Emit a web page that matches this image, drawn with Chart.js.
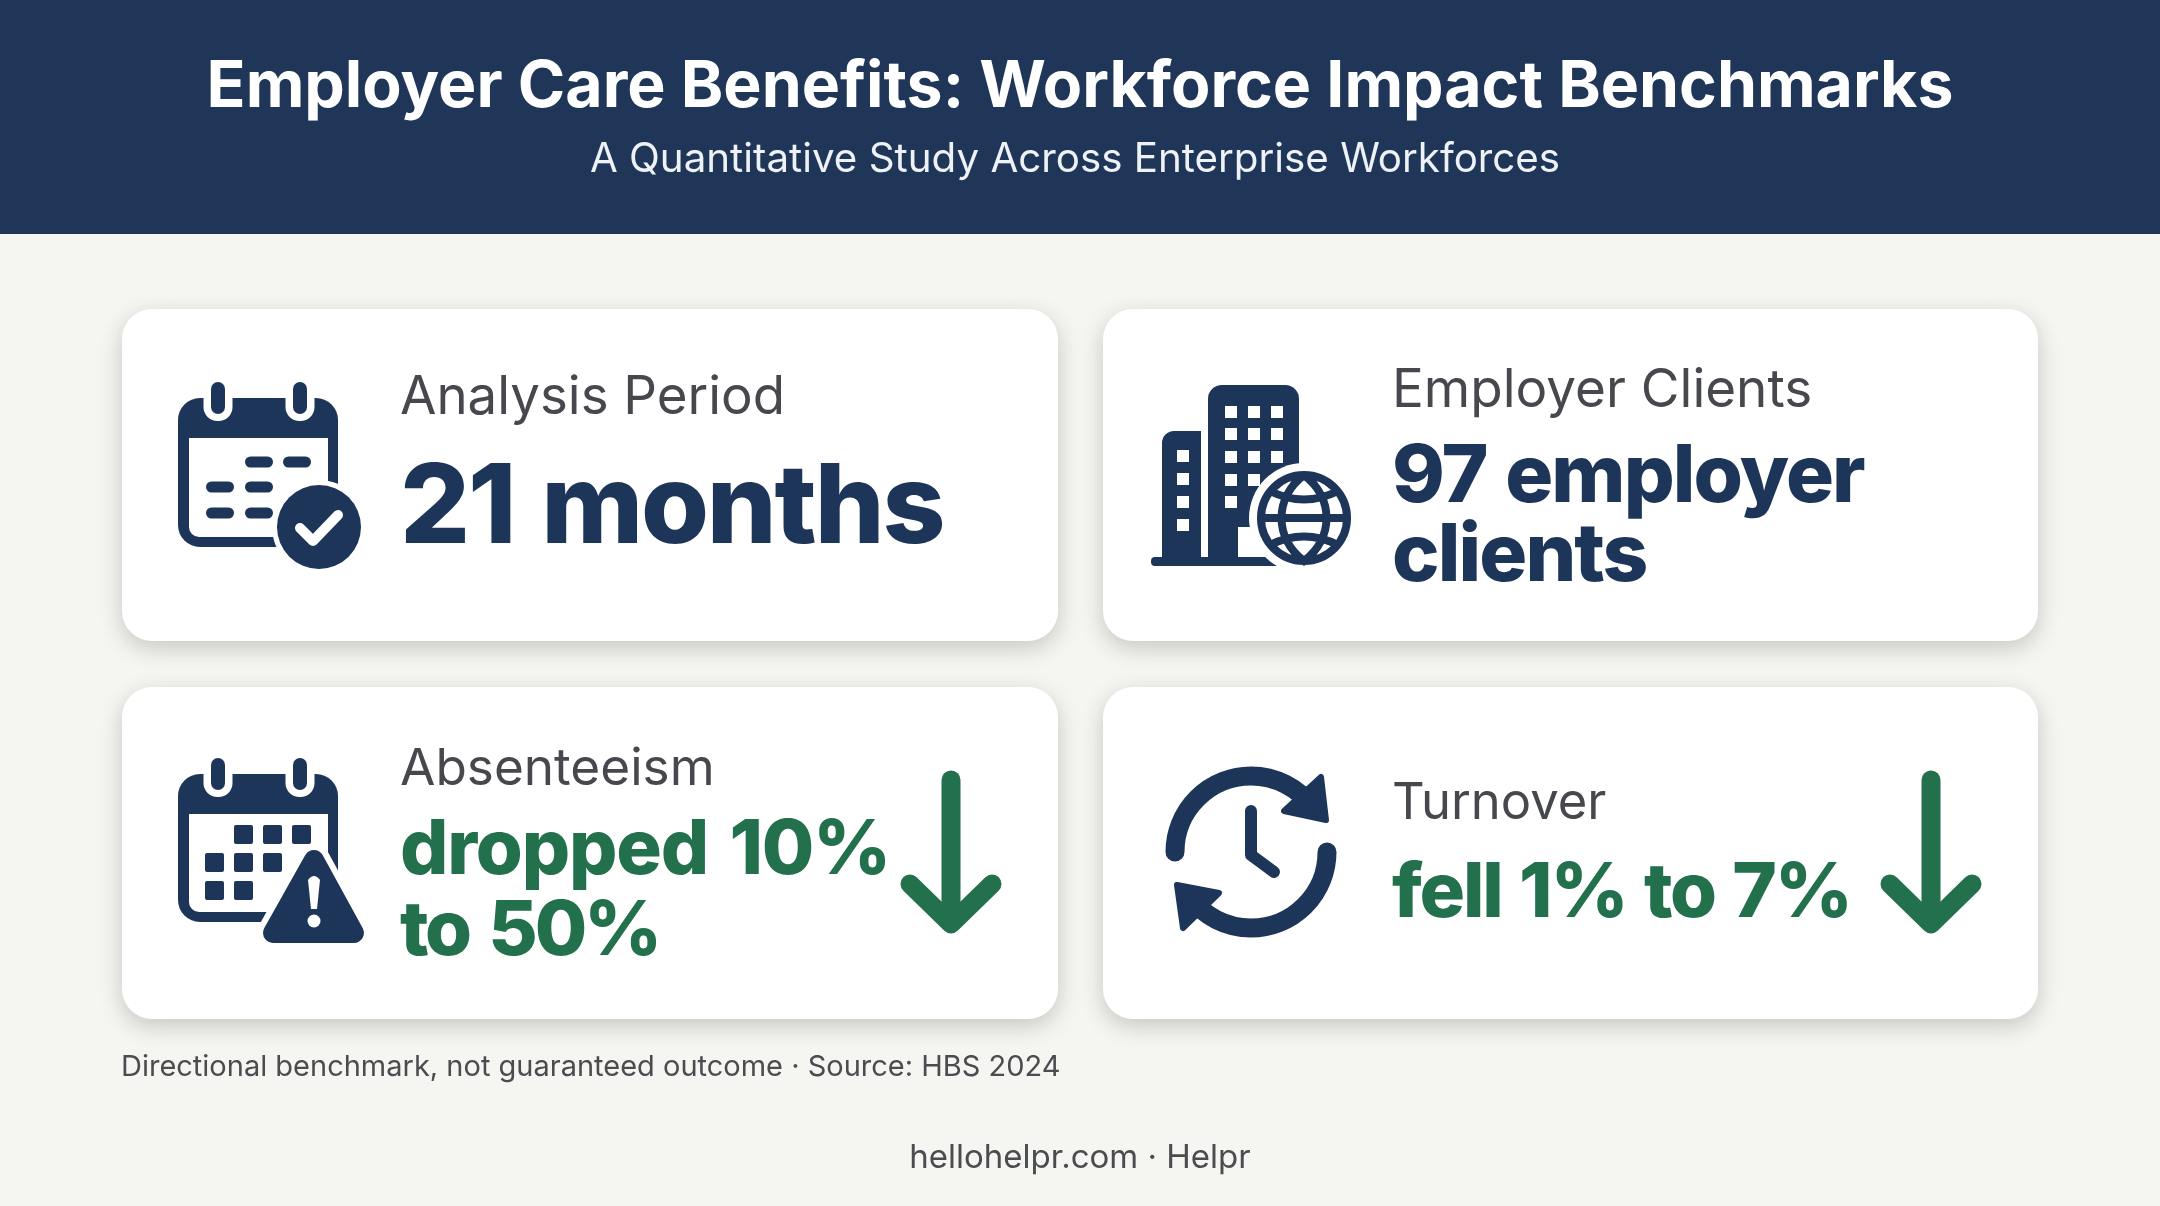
<!DOCTYPE html>
<html>
<head>
<meta charset="utf-8">
<title>Employer Care Benefits</title>
<script src="https://cdn.jsdelivr.net/npm/chart.js@4"></script>
<style>
  html, body { margin: 0; padding: 0; background: #f5f5f1; }
  canvas { display: block; }
</style>
</head>
<body>
<canvas id="chart" width="2160" height="1206"></canvas>
<script>
const titleText = "Employer Care Benefits: Workforce Impact Benchmarks";
const subtitleText = "A Quantitative Study Across Enterprise Workforces";
const cardLabels = ["Analysis Period", "Employer Clients", "Absenteeism", "Turnover"];
const cardValues = [["21 months"], ["97 employer", "clients"], ["dropped 10%", "to 50%"], ["fell 1% to 7%"]];
const cardTrends = [null, null, "down", "down"];
const noteText = "Directional benchmark, not guaranteed outcome · Source: HBS 2024";
const footerText = "hellohelpr.com · Helpr";

const NAVY = "#1c3559";
const GREEN = "#23704d";
const GREY = "#46484d";
const FONT = "Inter, sans-serif";

// card boxes and text anchors, in page pixels
const layout = [
    { x: 122, y: 309, w: 936, h: 332, tx: 400, label: 414, labelSize: 52.8, lines: [543], size: 110, spacing: [-2.2], words: 5 },
    { x: 1103, y: 309, w: 935, h: 332, tx: 1392, label: 407, labelSize: 53, lines: [502, 581], size: 80, spacing: [-1.9, -1.9], words: 3 },
    { x: 122, y: 687, w: 936, h: 332, tx: 400, label: 785, labelSize: 51.3, lines: [874, 955], size: 76, spacing: [-1.2, -3.2], words: 6 },
    { x: 1103, y: 687, w: 935, h: 332, tx: 1392, label: 819, labelSize: 50.7, lines: [917], size: 76, spacing: [-2.2], words: 3 },
];

function rr(ctx, x, y, w, h, r) {
    ctx.beginPath();
    ctx.roundRect(x, y, w, h, r);
}

function calendar(ctx, top, ringTop, headBottom, innerBottom) {
    ctx.fillStyle = NAVY;
    rr(ctx, 178, top, 160, innerBottom + 10 - top, 22);
    ctx.fill();
    ctx.fillStyle = "#fff";
    rr(ctx, 189, headBottom, 139, innerBottom - headBottom, [0, 0, 0, 10]);
    ctx.fill();
    [218, 300].forEach((cx) => {
        ctx.fillStyle = "#fff";
        rr(ctx, cx - 14.5, ringTop - 6, 29, top + 23 - ringTop + 6, 14);
        ctx.fill();
        ctx.fillStyle = NAVY;
        rr(ctx, cx - 7, ringTop, 14, top + 16 - ringTop, 7);
        ctx.fill();
    });
}

function iconCalendarCheck(ctx) {
    calendar(ctx, 398, 382, 438, 537);
    ctx.fillStyle = NAVY;
    [[245, 462], [283, 462], [206, 487], [245, 487], [206, 513], [245, 513]].forEach(([x, y]) => {
        rr(ctx, x, y - 5.5, 28, 11, 5.5);
        ctx.fill();
    });
    ctx.fillStyle = "#fff";
    ctx.beginPath();
    ctx.arc(319, 527, 47, 0, Math.PI * 2);
    ctx.fill();
    ctx.fillStyle = NAVY;
    ctx.beginPath();
    ctx.arc(319, 527, 42, 0, Math.PI * 2);
    ctx.fill();
    ctx.strokeStyle = "#fff";
    ctx.lineWidth = 10;
    ctx.lineCap = "round";
    ctx.lineJoin = "round";
    ctx.beginPath();
    ctx.moveTo(300, 528);
    ctx.lineTo(313, 541);
    ctx.lineTo(338, 515);
    ctx.stroke();
}

function iconBuildings(ctx) {
    ctx.fillStyle = NAVY;
    rr(ctx, 1208, 385, 91, 175, [14, 14, 0, 0]);
    ctx.fill();
    rr(ctx, 1162, 431, 39, 130, [12, 0, 0, 0]);
    ctx.fill();
    rr(ctx, 1151, 557, 130, 9, 4);
    ctx.fill();
    ctx.fillStyle = "#fff";
    ctx.fillRect(1238, 527, 60, 30);
    [412, 434, 457, 480, 502].forEach((y, row) => {
        [1231, 1254, 1277].forEach((x, col) => {
            if ((row === 3 && col === 2) || (row === 4 && col > 0)) return;
            ctx.fillRect(x - 6, y - 6, 12, 12);
        });
    });
    [456, 479, 502, 525].forEach((y) => ctx.fillRect(1177, y - 6, 12, 12));
    // globe
    const cx = 1304, cy = 518;
    ctx.beginPath();
    ctx.arc(cx, cy, 55, 0, Math.PI * 2);
    ctx.fill();
    ctx.strokeStyle = NAVY;
    ctx.lineWidth = 8;
    ctx.beginPath();
    ctx.arc(cx, cy, 43, 0, Math.PI * 2);
    ctx.moveTo(cx - 43, cy);
    ctx.lineTo(cx + 43, cy);
    ctx.moveTo(cx, cy - 43);
    ctx.bezierCurveTo(cx - 30, cy - 20, cx - 30, cy + 20, cx, cy + 43);
    ctx.bezierCurveTo(cx + 30, cy + 20, cx + 30, cy - 20, cx, cy - 43);
    ctx.moveTo(cx - 34, cy - 27);
    ctx.quadraticCurveTo(cx, cy - 10, cx + 34, cy - 27);
    ctx.moveTo(cx - 34, cy + 27);
    ctx.quadraticCurveTo(cx, cy + 10, cx + 34, cy + 27);
    ctx.stroke();
}

function iconCalendarWarn(ctx) {
    calendar(ctx, 774, 758, 814, 912);
    ctx.fillStyle = NAVY;
    [[234, 825], [263, 825], [292, 825], [205, 853], [234, 853], [263, 853], [205, 881], [234, 881]].forEach(([x, y]) => {
        rr(ctx, x, y, 19, 19, 2);
        ctx.fill();
    });
    const tri = () => {
        ctx.beginPath();
        ctx.moveTo(314, 860);
        ctx.lineTo(354, 933);
        ctx.lineTo(273, 933);
        ctx.closePath();
    };
    ctx.lineJoin = "round";
    ctx.strokeStyle = "#fff";
    ctx.lineWidth = 32;
    tri();
    ctx.stroke();
    ctx.strokeStyle = NAVY;
    ctx.fillStyle = NAVY;
    ctx.lineWidth = 20;
    tri();
    ctx.stroke();
    ctx.fill();
    ctx.fillStyle = "#fff";
    ctx.beginPath();
    ctx.moveTo(308, 880);
    ctx.quadraticCurveTo(314, 872, 320, 880);
    ctx.lineTo(317, 909);
    ctx.lineTo(311, 909);
    ctx.closePath();
    ctx.fill();
    ctx.beginPath();
    ctx.arc(314, 921, 6.5, 0, Math.PI * 2);
    ctx.fill();
}

function iconClock(ctx) {
    const cx = 1251, cy = 852, r = 76;
    ctx.strokeStyle = NAVY;
    ctx.fillStyle = NAVY;
    ctx.lineCap = "round";
    ctx.lineJoin = "round";
    ctx.lineWidth = 19;
    ctx.beginPath();
    ctx.arc(cx, cy, r, Math.PI, Math.PI * 1.8);
    ctx.stroke();
    ctx.beginPath();
    ctx.arc(cx, cy, r, 0, Math.PI * 0.8);
    ctx.stroke();
    ctx.lineWidth = 6;
    [[[1321, 777], [1326, 820], [1284, 811]], [[1177, 885], [1219, 893], [1183, 928]]].forEach((t) => {
        ctx.beginPath();
        ctx.moveTo(t[0][0], t[0][1]);
        ctx.lineTo(t[1][0], t[1][1]);
        ctx.lineTo(t[2][0], t[2][1]);
        ctx.closePath();
        ctx.fill();
        ctx.stroke();
    });
    ctx.lineWidth = 12;
    ctx.beginPath();
    ctx.moveTo(1251, 811);
    ctx.lineTo(1251, 855);
    ctx.lineTo(1274, 872);
    ctx.stroke();
}

function downArrow(ctx, cx) {
    ctx.strokeStyle = GREEN;
    ctx.lineCap = "round";
    ctx.lineJoin = "round";
    ctx.lineWidth = 19;
    ctx.beginPath();
    ctx.moveTo(cx, 780);
    ctx.lineTo(cx, 920);
    ctx.stroke();
    ctx.beginPath();
    ctx.moveTo(cx - 41, 884);
    ctx.lineTo(cx, 924);
    ctx.lineTo(cx + 41, 884);
    ctx.stroke();
}

const icons = [iconCalendarCheck, iconBuildings, iconCalendarWarn, iconClock];

const cardsPlugin = {
    id: "cards",
    beforeDraw(chart) {
        const ctx = chart.ctx;
        ctx.save();
        ctx.fillStyle = "#f5f5f1";
        ctx.fillRect(0, 0, chart.width, chart.height);
        ctx.fillStyle = "#1f3659";
        ctx.fillRect(0, 0, chart.width, 234);
        ctx.restore();
    },
    afterDraw(chart) {
        const ctx = chart.ctx;
        ctx.textBaseline = "alphabetic";
        ctx.fillStyle = "#eef1f5";
        ctx.font = "400 40.3px " + FONT;
        ctx.textAlign = "center";
        ctx.fillText(subtitleText, 1075, 172);

        cardLabels.forEach((label, i) => {
            const box = layout[i];
            ctx.save();
            ctx.shadowColor = "rgba(40,40,30,0.22)";
            ctx.shadowBlur = 22;
            ctx.shadowOffsetY = 7;
            ctx.fillStyle = "#fff";
            rr(ctx, box.x, box.y, box.w, box.h, 30);
            ctx.fill();
            ctx.restore();

            ctx.save();
            icons[i](ctx);
            ctx.restore();

            ctx.textAlign = "left";
            ctx.fillStyle = GREY;
            ctx.font = "400 " + box.labelSize + "px " + FONT;
            ctx.fillText(label, box.tx, box.label);
            ctx.save();
            ctx.fillStyle = cardTrends[i] ? GREEN : NAVY;
            ctx.font = "800 " + box.size + "px " + FONT;
            ctx.wordSpacing = box.words + "px";
            cardValues[i].forEach((line, n) => {
                ctx.letterSpacing = box.spacing[n] + "px";
                ctx.fillText(line, box.tx, box.lines[n]);
            });
            ctx.restore();
            if (cardTrends[i]) downArrow(ctx, box.x + box.w - 107);
        });

        ctx.fillStyle = "#4a4c50";
        ctx.font = "400 29px " + FONT;
        ctx.textAlign = "left";
        ctx.fillText(noteText, 121, 1076);
        ctx.font = "400 33px " + FONT;
        ctx.textAlign = "center";
        ctx.fillText(footerText, 1080, 1168);
    },
};

new Chart(document.getElementById("chart"), {
    type: "bar",
    data: { labels: cardLabels, datasets: [{ data: [] }] },
    plugins: [cardsPlugin],
    options: {
        responsive: false,
        animation: false,
        devicePixelRatio: 1,
        layout: { padding: 0 },
        scales: { x: { display: false }, y: { display: false } },
        plugins: {
            legend: { display: false },
            tooltip: { enabled: false },
            title: {
                display: true,
                text: titleText,
                color: "#ffffff",
                font: { family: FONT, size: 64.3, weight: "700", lineHeight: 1.2 },
                padding: { top: 49, bottom: 0 },
            },
        },
    },
});
</script>
</body>
</html>
